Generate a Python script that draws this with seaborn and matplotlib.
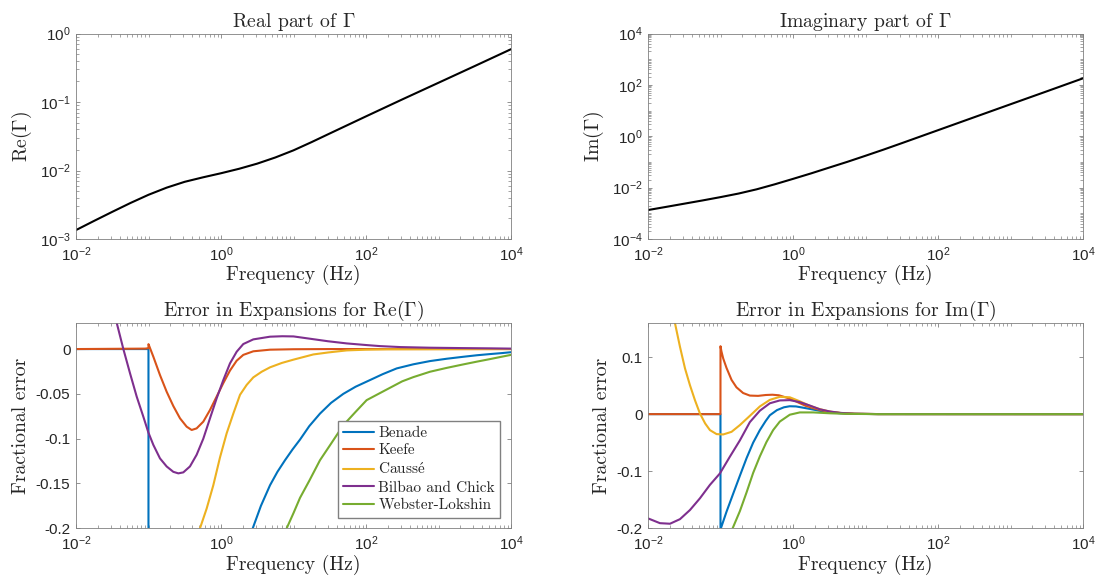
import numpy as np
import pandas as pd
import matplotlib
matplotlib.use('Agg')
import matplotlib.pyplot as plt
from matplotlib.ticker import LogLocator, NullFormatter
import seaborn as sns

# Re(Gamma) and Im(Gamma)
gamma_freq = [0.01, 0.0178, 0.0316, 0.0562, 0.1, 0.178, 0.316, 0.562, 1, 1.78, 3.16, 5.62, 10, 17.8,
              31.6, 100, 316, 1000, 3162, 10000]
gamma_re = [1.35e-3, 1.84e-3, 2.49e-3, 3.35e-3, 4.42e-3, 5.62e-3, 6.84e-3, 7.94e-3, 9.12e-3, 0.0106,
            0.0126, 0.0155, 0.0197, 0.026, 0.0347, 0.0617, 0.109, 0.191, 0.335, 0.59]
gamma_im = [1.34e-3, 1.78e-3, 2.37e-3, 3.16e-3, 4.27e-3, 5.89e-3, 8.61e-3, 0.0135, 0.0219, 0.0359,
            0.0603, 0.101, 0.174, 0.303, 0.537, 1.72, 5.5, 17.6, 56, 180]

methods = ['Benade', 'Keefe', 'Causs$\\acute{\\mathrm{e}}$', 'Bilbao and Chick', 'Webster-Lokshin']
colors = ['#0072BD', '#D95319', '#EDB120', '#7E2F8E', '#77AC30']

# Fractional error of each expansion for Re(Gamma)
re_benade_f = [0.01, 0.0999, 0.1, 2.0, 2.74, 3.55, 4.74, 6.0, 7.64, 9.7, 12.3, 16.5, 23.2, 33, 48.6, 72,
               113.5, 170, 265, 450, 764, 1300, 2203, 3400, 5129, 7500, 10000]
re_benade_e = [0, 0, -1.0, -0.228, -0.2, -0.175, -0.152, -0.137, -0.124, -0.112, -0.101, -0.086, -0.072,
               -0.060, -0.050, -0.042, -0.0346, -0.028, -0.0216, -0.017, -0.0134, -0.0108, -0.0086,
               -0.0069, -0.0056, -0.0045, -0.0035]
re_keefe_f = [0.01, 0.09, 0.0999, 0.1, 0.1167, 0.144, 0.178, 0.22, 0.272, 0.336, 0.394, 0.461, 0.570,
              0.705, 0.871, 1.076, 1.33, 1.644, 2.03, 2.79, 4.74, 10, 30, 10000]
re_keefe_e = [0, 0.0005, 0.001, 0.0055, -0.0086, -0.029, -0.0476, -0.0636, -0.0773, -0.0866, -0.0903,
              -0.0885, -0.081, -0.068, -0.053, -0.038, -0.024, -0.013, -0.0065, -0.0025, -0.0007,
              -0.0002, 0, 0]
re_causse_f = [0.01, 0.1, 0.3, 0.513, 0.634, 0.783, 0.968, 1.197, 1.479, 1.83, 2.26, 2.79, 3.64, 4.74,
               6.9, 10, 18.8, 30, 54.2, 100, 200, 10000]
re_causse_e = [-1.0, -0.45, -0.25, -0.2, -0.178, -0.152, -0.121, -0.094, -0.072, -0.051, -0.040, -0.0316,
               -0.0253, -0.0204, -0.0155, -0.0118, -0.006, -0.0038, -0.0015, -0.0007, -0.0003, 0]
re_bilbao_f = [0.02, 0.0316, 0.0364, 0.045, 0.0556, 0.0687, 0.0849, 0.0995, 0.1167, 0.144, 0.178, 0.22,
               0.258, 0.302, 0.373, 0.461, 0.570, 0.705, 0.871, 1.076, 1.33, 1.644, 2.03, 2.79, 4.74, 7.0,
               10, 18.8, 30, 54.2, 100, 156, 300, 764, 2000, 5129, 10000]
re_bilbao_e = [0.16, 0.055, 0.0294, 0, -0.027, -0.053, -0.0755, -0.093, -0.107, -0.122, -0.131, -0.137,
               -0.1387, -0.1376, -0.131, -0.118, -0.1, -0.0773, -0.055, -0.0346, -0.016, -0.003, 0.0056,
               0.0108, 0.0138, 0.0143, 0.0141, 0.011, 0.0087, 0.0063, 0.0045, 0.0033, 0.0022, 0.0015,
               0.0011, 0.0008, 0.0005]
re_webster_f = [0.01, 1.0, 5.0, 8.05, 10, 12.3, 16.5, 23.2, 33, 48.6, 72, 102, 170, 316, 450, 764, 1300,
                2203, 3400, 5129, 7500, 10000]
re_webster_e = [-2.0, -0.5, -0.245, -0.2, -0.183, -0.166, -0.147, -0.124, -0.1055, -0.085, -0.070, -0.057,
                -0.0475, -0.036, -0.0313, -0.0253, -0.021, -0.0171, -0.014, -0.0112, -0.0085, -0.0065]

# Fractional error of each expansion for Im(Gamma)
im_benade_f = [0.01, 0.0999, 0.1, 0.121, 0.150, 0.185, 0.229, 0.282, 0.349, 0.42, 0.479, 0.6, 0.75, 0.9,
               1.1, 1.35, 1.7, 2.34, 3.2, 4.5, 7, 15, 10000]
im_benade_e = [0, 0, -0.202, -0.171, -0.139, -0.108, -0.077, -0.05, -0.028, -0.012, -0.002, 0.007, 0.012,
               0.0138, 0.0135, 0.0115, 0.0092, 0.0058, 0.0033, 0.0015, 0.0005, 0.0001, 0]
im_keefe_f = [0.01, 0.0999, 0.1, 0.103, 0.109, 0.121, 0.142, 0.166, 0.205, 0.254, 0.33, 0.42, 0.52, 0.64,
              0.81, 1.0, 1.2, 1.5, 1.9, 2.4, 3.2, 4.5, 7, 15, 10000]
im_keefe_e = [0, 0, 0.119, 0.110, 0.0975, 0.081, 0.060, 0.047, 0.037, 0.0325, 0.032, 0.0335, 0.034, 0.033,
              0.029, 0.025, 0.020, 0.0145, 0.0105, 0.007, 0.004, 0.002, 0.0006, 0.0001, 0]
im_causse_f = [0.01, 0.0178, 0.0235, 0.0276, 0.0324, 0.0379, 0.0444, 0.0520, 0.0614, 0.0715, 0.0883,
               0.109, 0.142, 0.185, 0.254, 0.349, 0.479, 0.658, 0.904, 1.24, 1.71, 2.34, 3.2, 4.5, 7, 15,
               10000]
im_causse_e = [0.45, 0.25, 0.16, 0.118, 0.080, 0.0507, 0.0245, 0.0012, -0.0163, -0.028, -0.035, -0.0356,
               -0.031, -0.0192, -0.003, 0.0135, 0.025, 0.0303, 0.0295, 0.0225, 0.0145, 0.0088, 0.0045,
               0.002, 0.0006, 0.0001, 0]
im_bilbao_f = [0.01, 0.0146, 0.0201, 0.0276, 0.0379, 0.052, 0.0714, 0.098, 0.1346, 0.185, 0.254, 0.349,
               0.479, 0.658, 0.904, 1.24, 1.71, 2.34, 3.2, 4.5, 7, 15, 10000]
im_bilbao_e = [-0.1826, -0.191, -0.192, -0.184, -0.168, -0.1475, -0.124, -0.104, -0.0746, -0.046, -0.014,
               0.006, 0.019, 0.024, 0.0245, 0.021, 0.015, 0.0085, 0.0047, 0.0022, 0.0007, 0.0001, 0]
im_webster_f = [0.01, 0.1, 0.147, 0.185, 0.229, 0.282, 0.349, 0.43, 0.532, 0.658, 0.904, 1.24, 1.9, 3.2,
                5.5, 15, 10000]
im_webster_e = [-0.8, -0.27, -0.2, -0.17, -0.137, -0.103, -0.074, -0.049, -0.028, -0.013, -0.001, 0.003,
                0.003, 0.0015, 0.0005, 0, 0]

re_ticks = [-0.2, -0.15, -0.1, -0.05, 0]
re_ticklabels = ['-0.2', '-0.15', '-0.1', '-0.05', '0']
im_ticks = [-0.2, -0.1, 0, 0.1]
im_ticklabels = ['-0.2', '-0.1', '0', '0.1']
freq_ticks = [1e-2, 1e0, 1e2, 1e4]


def error_frame(pairs):
    """ Stack the per-method (freq, err) lists into one long table. """
    parts = []
    for name, (f, e) in zip(methods, pairs):
        parts.append(pd.DataFrame({'freq': f, 'err': e, 'method': name}))
    return pd.concat(parts, ignore_index=True)


sns.set_theme(style='ticks', rc={
    'xtick.direction': 'in', 'ytick.direction': 'in',
    'xtick.top': True, 'ytick.right': True,
    'xtick.major.size': 3.2, 'ytick.major.size': 3.2,
    'xtick.minor.size': 2.0, 'ytick.minor.size': 2.0,
    'xtick.major.width': 0.6, 'ytick.major.width': 0.6,
    'xtick.minor.width': 0.5, 'ytick.minor.width': 0.5,
    'xtick.major.pad': 4.5, 'ytick.major.pad': 4.0,
    'axes.edgecolor': '0.5', 'axes.linewidth': 0.6,
    'xtick.color': '0.5', 'ytick.color': '0.5',
    'xtick.labelcolor': '#262626', 'ytick.labelcolor': '#262626',
    'xtick.labelsize': 11, 'ytick.labelsize': 11,
})
plt.rcParams['font.family'] = ['Liberation Sans', 'DejaVu Sans']
plt.rcParams['mathtext.fontset'] = 'cm'

serif = dict(family='cmr10')
LABEL_SIZE = 14.2
fig = plt.figure(figsize=(10.97, 5.78), dpi=100)
W, H = 1097, 578
ax_w, ax_h = 435 / W, 205.5 / H
lefts = [76 / W, 648 / W]
bottoms = [1 - 239 / H, 1 - 528.3 / H]
axes = [[fig.add_axes([l, b, ax_w, ax_h]) for l in lefts] for b in bottoms]


def style_log_x(ax):
    ax.set_xscale('log')
    ax.set_xlim(1e-2, 1e4)
    ax.set_xticks(freq_ticks)
    ax.xaxis.set_minor_locator(LogLocator(base=10, subs=np.arange(1, 10), numticks=30))
    ax.xaxis.set_minor_formatter(NullFormatter())
    ax.set_xlabel('Frequency (Hz)', fontdict=serif, fontsize=LABEL_SIZE, labelpad=1)


# Top row: the propagation constant
for ax, vals, ylab, title, ylim, yt in [
        (axes[0][0], gamma_re, 'Re$(\\Gamma)$', 'Real part of $\\Gamma$', (1e-3, 1), [1e-3, 1e-2, 1e-1, 1e0]),
        (axes[0][1], gamma_im, 'Im$(\\Gamma)$', 'Imaginary part of $\\Gamma$', (1e-4, 1e4),
         [1e-4, 1e-2, 1e0, 1e2, 1e4])]:
    sns.lineplot(x=gamma_freq, y=vals, color='black', linewidth=1.5, ax=ax, estimator=None, sort=False)
    style_log_x(ax)
    ax.set_yscale('log')
    ax.set_ylim(*ylim)
    ax.set_yticks(yt)
    ax.yaxis.set_minor_locator(LogLocator(base=10, subs=np.arange(1, 10), numticks=30))
    ax.yaxis.set_minor_formatter(NullFormatter())
    ax.set_ylabel(ylab, fontdict=serif, fontsize=LABEL_SIZE, labelpad=4)
    ax.set_title(title, fontdict=serif, fontsize=LABEL_SIZE, pad=5)

# Bottom row: fractional errors
re_df = error_frame([(re_benade_f, re_benade_e), (re_keefe_f, re_keefe_e), (re_causse_f, re_causse_e),
                     (re_bilbao_f, re_bilbao_e), (re_webster_f, re_webster_e)])
im_df = error_frame([(im_benade_f, im_benade_e), (im_keefe_f, im_keefe_e), (im_causse_f, im_causse_e),
                     (im_bilbao_f, im_bilbao_e), (im_webster_f, im_webster_e)])

for ax, df, title, ylim, ticks, labels in [
        (axes[1][0], re_df, 'Error in Expansions for Re$(\\Gamma)$', (-0.2, 0.0293), re_ticks, re_ticklabels),
        (axes[1][1], im_df, 'Error in Expansions for Im$(\\Gamma)$', (-0.2, 0.16), im_ticks, im_ticklabels)]:
    sns.lineplot(data=df, x='freq', y='err', hue='method', palette=colors, linewidth=1.5,
                 estimator=None, sort=False, ax=ax)
    style_log_x(ax)
    ax.set_ylim(*ylim)
    ax.set_yticks(ticks)
    ax.set_yticklabels(labels)
    ax.set_ylabel('Fractional error', fontdict=serif, fontsize=LABEL_SIZE, labelpad=4)
    ax.set_title(title, fontdict=serif, fontsize=LABEL_SIZE, pad=5)

handles, labels = axes[1][0].get_legend_handles_labels()
axes[1][0].legend(handles, labels, loc='lower right', prop=dict(family='cmr10', size=11),
                  frameon=True, fancybox=False, framealpha=1, edgecolor='0.5',
                  handlelength=2.0, handletextpad=0.3, labelspacing=0.25, borderpad=0.35,
                  borderaxespad=0.7)
axes[1][1].get_legend().remove()

fig.savefig('out.png', dpi=100)
